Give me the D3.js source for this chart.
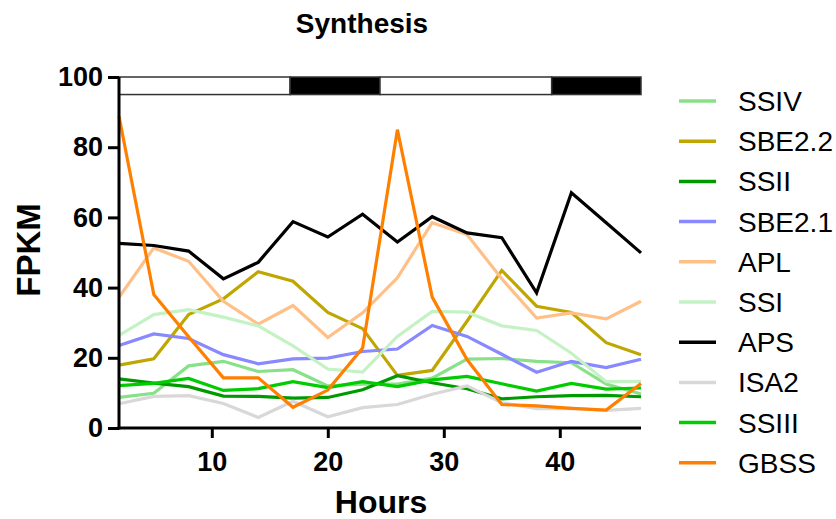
<!DOCTYPE html>
<html>
<head>
<meta charset="utf-8">
<script src="https://cdn.jsdelivr.net/npm/d3@7"></script>
<style>
  body { margin: 0; background: #fff; }
  text { font-family: 'Liberation Sans', Arial, sans-serif; }
</style>
</head>
<body>
<script>
;(() => {
  // sampling hours (every 3 h)
  const hours = [2, 5, 8, 11, 14, 17, 20, 23, 26, 29, 32, 35, 38, 41, 44, 47]

  // FPKM per gene
  const SSIV = [8.7, 9.9, 17.7, 19.0, 16.1, 16.6, 12.0, 12.5, 12.5, 14.2, 19.6, 19.8, 19.0, 18.6, 12.5, 9.7]
  const SBE22 = [17.9, 19.7, 32.3, 36.8, 44.5, 41.8, 32.9, 28.3, 15.0, 16.4, 30.4, 44.9, 34.7, 32.9, 24.3, 20.9]
  const SSII = [14.0, 12.8, 11.8, 9.1, 9.0, 8.5, 8.7, 10.9, 14.9, 12.9, 11.2, 8.3, 8.9, 9.2, 9.3, 8.9]
  const SBE21 = [23.5, 26.8, 25.5, 20.9, 18.3, 19.7, 19.9, 21.8, 22.5, 29.2, 26.1, 21.0, 15.9, 19.0, 17.2, 19.6]
  const APL = [37.2, 51.3, 47.5, 36.1, 29.6, 34.9, 25.8, 32.8, 42.8, 58.5, 55.1, 42.5, 31.3, 32.8, 31.1, 36.1]
  const SSI = [26.4, 32.3, 33.7, 31.6, 29.1, 23.4, 16.8, 15.9, 26.1, 33.2, 33.0, 29.1, 27.8, 21.3, 13.2, 13.3]
  const APS = [52.6, 52.0, 50.4, 42.5, 47.2, 58.8, 54.4, 60.9, 53.0, 60.2, 55.6, 54.2, 38.5, 67.0, 58.5, 49.9]
  const ISA2 = [6.9, 9.0, 9.2, 7.0, 3.0, 7.6, 3.2, 5.8, 6.7, 9.6, 12.0, 7.2, 5.5, 5.6, 5.0, 5.6]
  const SSIII = [12.1, 12.7, 14.1, 10.7, 11.2, 13.2, 11.5, 13.2, 11.8, 13.7, 14.7, 12.6, 10.5, 12.7, 11.1, 11.4]
  const GBSS = [88.8, 38.0, 26.0, 14.3, 14.3, 5.9, 10.8, 22.8, 85.0, 37.3, 19.5, 6.7, 6.3, 5.6, 5.1, 12.7]

  const seriesNames = ['SSIV', 'SBE2.2', 'SSII', 'SBE2.1', 'APL', 'SSI', 'APS', 'ISA2', 'SSIII', 'GBSS']
  const seriesValues = [SSIV, SBE22, SSII, SBE21, APL, SSI, APS, ISA2, SSIII, GBSS]
  const seriesColors = ['#88e088', '#bfa600', '#009a00', '#8888ff', '#ffc088', '#c4f2c4', '#000000', '#d8d8d8', '#00cc00', '#ff8000']

  // light / dark periods shown in the bar on top
  const periodStart = [2, 16.75, 24.5, 39.3]
  const periodEnd = [16.75, 24.5, 39.3, 47]
  const periodDark = [false, true, false, true]

  const yTicks = [0, 20, 40, 60, 80, 100]
  const xTicks = [10, 20, 30, 40]

  const width = 836,
    height = 519

  const svg = d3
    .select('body')
    .append('svg')
    .attr('width', width)
    .attr('height', height)

  const x = d3.scaleLinear().domain([2, 47]).range([119, 641])
  const y = d3.scaleLinear().domain([0, 100]).range([428, 77])

  // title
  svg
    .append('text')
    .attr('x', 362)
    .attr('y', 33)
    .attr('text-anchor', 'middle')
    .style('font-size', '28px')
    .style('font-weight', 'bold')
    .text('Synthesis')

  // series lines
  const line = d3
    .line()
    .x((d, i) => x(hours[i]))
    .y(d => y(d))

  svg
    .selectAll('.series')
    .data(seriesValues)
    .enter()
    .append('path')
    .attr('class', 'series')
    .attr('d', line)
    .attr('fill', 'none')
    .attr('stroke', (d, i) => seriesColors[i])
    .attr('stroke-width', 3.2)
    .attr('stroke-linejoin', 'miter')

  // day / night bar
  svg
    .selectAll('.period')
    .data(periodStart)
    .enter()
    .append('rect')
    .attr('class', 'period')
    .attr('x', (d, i) => x(d))
    .attr('y', y(100))
    .attr('width', (d, i) => x(periodEnd[i]) - x(d))
    .attr('height', y(95) - y(100))
    .attr('fill', (d, i) => (periodDark[i] ? '#000' : '#fff'))
    .attr('stroke', '#333')
    .attr('stroke-width', 1.5)

  // y axis
  const yAxis = svg
    .append('g')
    .attr('transform', `translate(${x(2)},0)`)
    .call(d3.axisLeft(y).tickValues(yTicks).tickSize(11).tickPadding(5))
  yAxis.select('.domain').attr('stroke-width', 3).attr('d', `M0,${y(0) + 1.5}V${y(100)}`)
  yAxis.selectAll('.tick line').attr('stroke-width', 3)
  yAxis
    .selectAll('.tick text')
    .style('font-size', '27px')
    .style('font-weight', 'bold')
    .attr('fill', '#000')
    .attr('font-family', null)

  // x axis
  const xAxis = svg
    .append('g')
    .attr('transform', `translate(0,${y(0)})`)
    .call(d3.axisBottom(x).tickValues(xTicks).tickSize(10).tickPadding(14))
  xAxis.select('.domain').attr('stroke-width', 3).attr('d', `M${x(2) - 1.5},0H${x(47)}`)
  xAxis.selectAll('.tick line').attr('stroke-width', 3)
  xAxis
    .selectAll('.tick text')
    .style('font-size', '27px')
    .style('font-weight', 'bold')
    .attr('fill', '#000')
    .attr('font-family', null)

  // axis titles
  svg
    .append('text')
    .attr('x', 381)
    .attr('y', 513)
    .attr('text-anchor', 'middle')
    .style('font-size', '32px')
    .style('font-weight', 'bold')
    .text('Hours')

  svg
    .append('text')
    .attr('transform', 'translate(40,250) rotate(-90)')
    .attr('text-anchor', 'middle')
    .style('font-size', '33px')
    .style('font-weight', 'bold')
    .text('FPKM')

  // legend
  const legend = svg
    .selectAll('.legend')
    .data(seriesNames)
    .enter()
    .append('g')
    .attr('class', 'legend')
    .attr('transform', (d, i) => `translate(0,${101 + i * 40.2})`)

  legend
    .append('line')
    .attr('x1', 679)
    .attr('x2', 716)
    .attr('stroke', (d, i) => seriesColors[i])
    .attr('stroke-width', 3.5)

  legend
    .append('text')
    .attr('x', 738)
    .attr('y', 10)
    .style('font-size', '28px')
    .text(d => d)
})()
</script>
</body>
</html>
